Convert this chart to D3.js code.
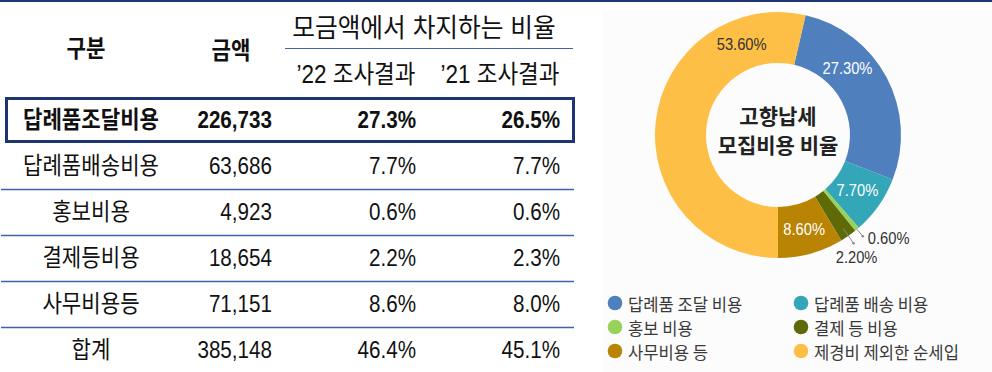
<!DOCTYPE html>
<html>
<head>
<meta charset="utf-8">
<script src="https://cdn.jsdelivr.net/npm/d3@7"></script>
<style>
  html, body { margin: 0; padding: 0; background: #ffffff; }
  svg { display: block; }
</style>
</head>
<body>
<svg id="chart" width="992" height="372"></svg>
<script>
// 고향납세 모집비용 — table of costs and share of donations
const categories = ['답례품조달비용', '답례품배송비용', '홍보비용', '결제등비용', '사무비용등', '합계'];
const amounts = [226733, 63686, 4923, 18654, 71151, 385148];
const share2022 = [27.3, 7.7, 0.6, 2.2, 8.6, 46.4];
const share2021 = [26.5, 7.7, 0.6, 2.3, 8.0, 45.1];
const headerGroup = '모금액에서 차지하는 비율';
const headerCols = ['구분', '금액'];
const headerYears = ['\u201922 조사결과', '\u201921 조사결과'];

// donut: share of total donations
const pieNames = ['답례품 조달 비용', '답례품 배송 비용', '홍보 비용', '결제 등 비용', '사무비용 등', '제경비 제외한 순세입'];
const pieValues = [27.3, 7.7, 0.6, 2.2, 8.6, 53.6];
const pieColors = ['#4f7fbc', '#33a6b7', '#97d35a', '#5f6a06', '#b98304', '#fdbf46'];
const centerTitle = ['고향납세', '모집비용 비율'];

const svg = d3.select('#chart');
const NAVY = '#1d3572';
const RULE = '#4062a8';
const TXT = '#111111';
const FONT = '"Liberation Sans", "Noto Sans CJK KR", sans-serif';

// ---------- table ----------
svg.append('line').attr('x1', 0).attr('x2', 992).attr('y1', 1).attr('y2', 1)
  .attr('stroke', NAVY).attr('stroke-width', 2);

const y = d3.scaleBand().domain(categories).range([97, 373]);
const colX = { cat: 91, amt: 272, y22: 416, y21: 560 };
const fmt = d3.format(',');
const pct = d => d.toFixed(1) + '%';

function txt(g, x, yy, s, opt) {
  const o = Object.assign({ size: 24, sx: 0.86, anchor: 'middle', weight: 'normal', fill: TXT }, opt || {});
  return g.append('text')
    .attr('transform', `translate(${x},${yy}) scale(${o.sx},1)`)
    .attr('text-anchor', o.anchor)
    .attr('dominant-baseline', 'central')
    .attr('font-family', FONT)
    .attr('font-size', o.size)
    .attr('font-weight', o.weight)
    .attr('fill', o.fill)
    .text(s);
}

const head = svg.append('g');
txt(head, 86, 49, headerCols[0], { weight: 'bold', size: 24, sx: 0.88 });
txt(head, 231, 51, headerCols[1], { weight: 'bold', size: 24, sx: 0.88 });
txt(head, 424, 28, headerGroup, { size: 26, sx: 0.95 });
head.append('line').attr('x1', 285).attr('x2', 573).attr('y1', 48.5).attr('y2', 48.5)
  .attr('stroke', RULE).attr('stroke-width', 1.2);
txt(head, 356, 74, headerYears[0], { size: 25, sx: 0.9 });
txt(head, 500, 74, headerYears[1], { size: 25, sx: 0.9 });

// row separators (between body rows, below the highlighted row)
const sepRows = categories.slice(2);
svg.append('g').selectAll('line').data(sepRows).join('line')
  .attr('x1', 1).attr('x2', 574)
  .attr('y1', d => y(d) + 0.5).attr('y2', d => y(d) + 0.5)
  .attr('stroke', RULE).attr('stroke-width', 1.3);

const rows = svg.append('g').selectAll('g').data(categories).join('g');
rows.each(function (c, i) {
  const g = d3.select(this);
  const cy = y(c) + y.bandwidth() / 2;
  const w = i === 0 ? 'bold' : 'normal';
  txt(g, colX.cat, cy, c, { weight: w, size: 24, sx: 0.88 });
  txt(g, colX.amt, cy, fmt(amounts[i]), { anchor: 'end', weight: w });
  txt(g, colX.y22, cy, pct(share2022[i]), { anchor: 'end', weight: w });
  txt(g, colX.y21, cy, pct(share2021[i]), { anchor: 'end', weight: w });
});

// highlight frame around the first row
svg.append('rect')
  .attr('x', 6.5).attr('y', y(categories[0]) + 1.5)
  .attr('width', 567).attr('height', y.bandwidth() - 3)
  .attr('fill', 'none').attr('stroke', NAVY).attr('stroke-width', 3);

// ---------- donut ----------
svg.append('rect').attr('x', 603).attr('y', 10).attr('width', 389).attr('height', 362)
  .attr('fill', '#fcfcfc');

const cx = 778, cyP = 135, rOut = 123, rIn = 72;
const lastShare = pieValues[pieValues.length - 1] / d3.sum(pieValues);
const start = Math.PI - (1 - lastShare) * 2 * Math.PI; // last slice begins straight down
const pie = d3.pie().sort(null).value(d => d)
  .startAngle(start).endAngle(start + 2 * Math.PI);
const arcs = pie(pieValues);
const arc = d3.arc().innerRadius(rIn).outerRadius(rOut);

const pg = svg.append('g').attr('transform', `translate(${cx},${cyP})`);
pg.selectAll('path').data(arcs).join('path')
  .attr('d', arc)
  .attr('fill', (d, i) => pieColors[i]);

// label placement: fraction along each slice, radius, colour
const labelPos = [
  { f: 0.34, r: 96, fill: '#ffffff' },
  { f: 0.5, r: 97, fill: '#ffffff' },
  null,
  null,
  { f: 0.5, r: 98, fill: '#ffffff' },
  { f: 0.82, r: 98, fill: '#333333' }
];
const polar = (a, r) => [r * Math.sin(a), -r * Math.cos(a)];
const pieLabel = v => v.toFixed(2) + '%';
const lfont = '"Liberation Sans", "Noto Sans", sans-serif';

arcs.forEach((d, i) => {
  const lp = labelPos[i];
  if (!lp) return;
  const a = d.startAngle + (d.endAngle - d.startAngle) * lp.f;
  const [x, yy] = polar(a, lp.r);
  pg.append('text')
    .attr('transform', `translate(${x},${yy}) scale(0.92,1)`)
    .attr('text-anchor', 'middle').attr('dominant-baseline', 'central')
    .attr('font-family', lfont).attr('font-size', 16)
    .attr('fill', lp.fill).text(pieLabel(pieValues[i]));
});

// leader lines for the two thin slices
const leaders = [
  { i: 2, r0: 123, r1: 132, dx: 5, dy: 2, anchor: 'start' },
  { i: 3, r0: 114, r1: 132, dx: 3, dy: 14, anchor: 'middle' }
];
leaders.forEach(L => {
  const d = arcs[L.i];
  const a = (d.startAngle + d.endAngle) / 2;
  const p0 = polar(a, L.r0), p1 = polar(a, L.r1);
  pg.append('line').attr('x1', p0[0]).attr('y1', p0[1]).attr('x2', p1[0]).attr('y2', p1[1])
    .attr('stroke', '#8a8a8a').attr('stroke-width', 1);
  pg.append('circle').attr('cx', p1[0]).attr('cy', p1[1]).attr('r', 1.3).attr('fill', '#8a8a8a');
  pg.append('text')
    .attr('transform', `translate(${p1[0] + L.dx},${p1[1] + L.dy}) scale(0.92,1)`)
    .attr('text-anchor', L.anchor).attr('dominant-baseline', 'central')
    .attr('font-family', lfont).attr('font-size', 16)
    .attr('fill', '#333333').text(pieLabel(pieValues[L.i]));
});

// centre title
centerTitle.forEach((t, k) => {
  pg.append('text')
    .attr('x', 0).attr('y', k === 0 ? -20 : 9)
    .attr('text-anchor', 'middle').attr('dominant-baseline', 'central')
    .attr('font-family', '"Noto Sans CJK KR", sans-serif').attr('font-weight', 'bold')
    .attr('font-size', 21).attr('fill', '#222222').text(t);
});

// ---------- legend ----------
const lg = svg.append('g');
const legX = d3.scalePoint().domain([0, 1]).range([615, 801]);
const legY = d3.scalePoint().domain([0, 1, 2]).range([303, 351]);
pieNames.forEach((n, i) => {
  const col = i % 2, row = Math.floor(i / 2);
  const gx = legX(col), gy = legY(row);
  lg.append('circle').attr('cx', gx).attr('cy', gy).attr('r', 7.3).attr('fill', pieColors[i]);
  lg.append('text')
    .attr('transform', `translate(${gx + 13},${gy}) scale(0.95,1)`)
    .attr('dominant-baseline', 'central')
    .attr('font-family', '"Noto Sans CJK KR", sans-serif')
    .attr('font-size', 17.5).attr('fill', '#3a3a3a').text(n);
});
</script>
</body>
</html>
